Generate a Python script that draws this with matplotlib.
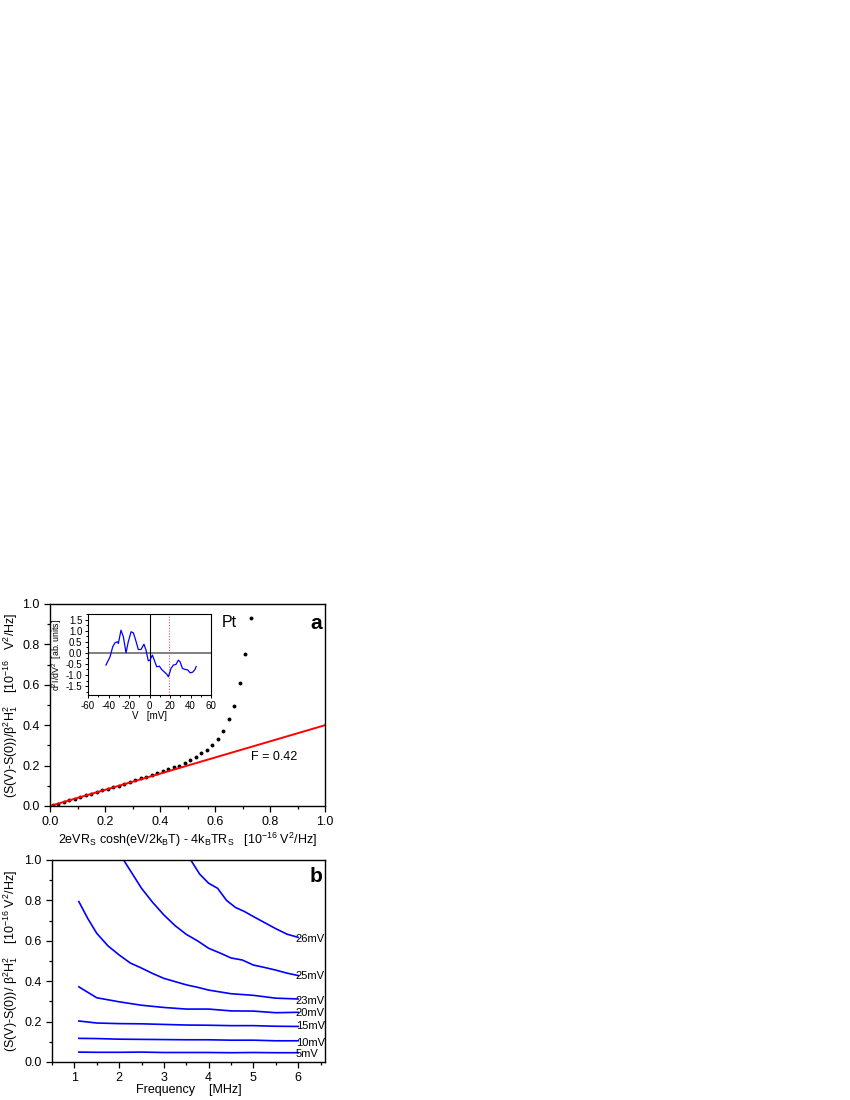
import numpy as np
import matplotlib
matplotlib.use("Agg")
import matplotlib.pyplot as plt
from matplotlib.ticker import MultipleLocator

plt.rcParams['font.family'] = ['Liberation Sans', 'DejaVu Sans']
plt.rcParams['mathtext.fontset'] = 'custom'
plt.rcParams['mathtext.rm'] = 'Liberation Sans'
plt.rcParams['mathtext.it'] = 'Liberation Sans:italic'
plt.rcParams['mathtext.bf'] = 'Liberation Sans:bold'
plt.rcParams['axes.unicode_minus'] = False

# panel a: measured points
a_x = [0.01, 0.03, 0.05, 0.07, 0.09, 0.11, 0.13, 0.15, 0.17, 0.19, 0.21, 0.23,
       0.25, 0.27, 0.29, 0.31, 0.33, 0.35, 0.37, 0.39, 0.41, 0.43, 0.45, 0.47,
       0.49, 0.51, 0.53, 0.55, 0.57, 0.59, 0.61, 0.63, 0.65, 0.67, 0.69, 0.71, 0.73]
a_y = [0.004, 0.012, 0.020, 0.028, 0.036, 0.044, 0.052, 0.060, 0.068, 0.077, 0.085, 0.093,
       0.101, 0.110, 0.119, 0.128, 0.137, 0.146, 0.155, 0.164, 0.175, 0.183, 0.191, 0.200,
       0.212, 0.226, 0.244, 0.261, 0.277, 0.302, 0.330, 0.371, 0.429, 0.495, 0.611, 0.751, 0.929]
fit_x = [0.0, 1.0]
fit_y = [0.0, 0.40]

# inset: d2I/dV2 vs V
ins_v = [-42.5, -38.5, -35.9, -33.7, -31.4, -30.4, -27.8, -25.5, -22.9, -20.7, -18.0, -15.7,
         -13.5, -10.9, -8.3, -5.4, -3.4, -1.2, 0.4, 2.8, 4.7, 7.0, 9.6, 11.9, 14.2, 16.8,
         18.4, 21.0, 23.3, 25.9, 28.1, 29.8, 32.1, 34.7, 37.3, 39.6, 42.2, 44.4, 45.5]
ins_d = [-0.55, -0.18, 0.27, 0.45, 0.50, 0.42, 1.02, 0.72, 0.0, 0.50, 0.95, 0.90,
         0.57, 0.15, 0.15, 0.39, 0.12, -0.36, -0.33, -0.10, -0.33, -0.63, -0.60, -0.75, -0.85, -0.96,
         -1.08, -0.70, -0.55, -0.52, -0.33, -0.40, -0.70, -0.75, -0.77, -0.90, -0.87, -0.75, -0.62]
phonon_v = 19.0

# panel b: noise vs frequency for several bias voltages
freq = [1.1, 1.5, 2.0, 2.5, 3.0, 3.5, 4.0, 4.5, 5.0, 5.5, 6.0]
s_5 = [0.049, 0.048, 0.048, 0.049, 0.047, 0.047, 0.047, 0.046, 0.047, 0.046, 0.046]
s_10 = [0.117, 0.116, 0.113, 0.112, 0.111, 0.110, 0.110, 0.108, 0.108, 0.105, 0.105]
s_15 = [0.203, 0.193, 0.190, 0.189, 0.186, 0.183, 0.182, 0.180, 0.180, 0.177, 0.176]
s_20 = [0.372, 0.318, 0.298, 0.281, 0.270, 0.262, 0.262, 0.253, 0.252, 0.244, 0.246]
freq_23 = [1.1, 1.3, 1.5, 1.75, 2.0, 2.25, 2.5, 2.75, 3.0, 3.25, 3.5, 3.75, 4.0, 4.5, 5.0, 5.5, 6.0]
s_23 = [0.794, 0.71, 0.637, 0.575, 0.530, 0.490, 0.465, 0.438, 0.414, 0.398, 0.382, 0.370,
        0.356, 0.338, 0.330, 0.316, 0.312]
freq_25 = [2.1, 2.3, 2.5, 2.75, 3.0, 3.25, 3.5, 3.75, 4.0, 4.25, 4.5, 4.75, 5.0, 5.25, 5.5, 5.75, 6.0]
s_25 = [1.0, 0.93, 0.86, 0.79, 0.728, 0.675, 0.632, 0.60, 0.563, 0.54, 0.515, 0.505,
        0.48, 0.468, 0.455, 0.44, 0.428]
freq_26 = [3.6, 3.8, 4.0, 4.2, 4.4, 4.6, 4.8, 5.0, 5.25, 5.5, 5.75, 6.0]
s_26 = [1.0, 0.93, 0.885, 0.86, 0.80, 0.765, 0.745, 0.72, 0.69, 0.66, 0.633, 0.617]

curves = [(freq, s_5, '5mV'), (freq, s_10, '10mV'), (freq, s_15, '15mV'),
          (freq, s_20, '20mV'), (freq_23, s_23, '23mV'), (freq_25, s_25, '25mV'),
          (freq_26, s_26, '26mV')]
label_y = {'5mV': 0.040, '10mV': 0.096, '15mV': 0.180, '20mV': 0.241,
           '23mV': 0.304, '25mV': 0.426, '26mV': 0.607}

fig = plt.figure(figsize=(8.5, 11), dpi=100)
fs = 9


def style_axes(ax, size=fs):
    for s in ax.spines.values():
        s.set_linewidth(1.0)
    ax.tick_params(which='both', direction='out', top=False, right=False, labelsize=size, width=0.9)
    ax.tick_params(which='major', length=4)
    ax.tick_params(which='minor', length=2.5)


# ---- panel a ----
ax1 = fig.add_axes([50 / 850, 1 - 806 / 1100, 275 / 850, 202 / 1100])
ax1.plot(a_x, a_y, 'o', color='black', markersize=2.8, markeredgewidth=0)
ax1.plot(fit_x, fit_y, color='red', lw=1.4)
ax1.set_xlim(0, 1.0)
ax1.set_ylim(0, 1.0)
ax1.xaxis.set_major_locator(MultipleLocator(0.2))
ax1.xaxis.set_minor_locator(MultipleLocator(0.1))
ax1.yaxis.set_major_locator(MultipleLocator(0.2))
ax1.yaxis.set_minor_locator(MultipleLocator(0.1))
ax1.xaxis.set_major_formatter(plt.FormatStrFormatter('%.1f'))
ax1.yaxis.set_major_formatter(plt.FormatStrFormatter('%.1f'))
style_axes(ax1)
ax1.set_xlabel(r'2eVR$_\mathregular{S}$ cosh(eV/2k$_\mathregular{B}$T) - 4k$_\mathregular{B}$TR$_\mathregular{S}$'
               r'   [10$^{\mathregular{-16}}$ V$^\mathregular{2}$/Hz]', fontsize=fs)
ax1.xaxis.set_label_coords(0.5, -0.125)
ax1.set_ylabel(r'(S(V)-S(0))/$\mathregular{\beta^2}$H$_\mathregular{1}^\mathregular{2}$'
               r'    [10$^{\mathregular{-16}}$   V$^\mathregular{2}$/Hz]', fontsize=fs)
ax1.yaxis.set_label_coords(-0.109, 0.5)
ax1.text(0.625, 0.91, 'Pt', fontsize=11.5, va='center', ha='left')
ax1.text(0.99, 0.905, 'a', fontsize=15, fontweight='bold', va='center', ha='right')
ax1.text(0.73, 0.244, 'F = 0.42', fontsize=fs, va='center', ha='left')

# inset
axi = fig.add_axes([88 / 850, 1 - 695 / 1100, 123 / 850, 81 / 1100])
axi.axhline(0, color='gray', lw=1.4)
axi.axvline(0, color='black', lw=0.8)
axi.axvline(phonon_v, color='#ff5050', lw=0.8, ls=(0, (1, 1.5)))
axi.plot(ins_v, ins_d, color='blue', lw=0.9)
axi.set_xlim(-60, 60)
axi.set_ylim(-1.9, 1.75)
axi.xaxis.set_major_locator(MultipleLocator(20))
axi.xaxis.set_minor_locator(MultipleLocator(10))
axi.yaxis.set_major_locator(MultipleLocator(0.5))
axi.yaxis.set_minor_locator(MultipleLocator(0.25))
axi.yaxis.set_major_formatter(plt.FormatStrFormatter('%.1f'))
for s in axi.spines.values():
    s.set_linewidth(0.8)
axi.tick_params(which='both', direction='out', top=False, right=False, labelsize=7, width=0.7, pad=1.5)
axi.tick_params(which='major', length=2.5)
axi.tick_params(which='minor', length=1.5)
axi.set_xlabel('V   [mV]', fontsize=7, labelpad=0)
axi.set_ylabel(r'd$^\mathregular{2}$I/dV$^\mathregular{2}$  [ab. units]', fontsize=6.3, labelpad=1)

# ---- panel b ----
ax2 = fig.add_axes([52 / 850, 1 - 1062 / 1100, 273 / 850, 202 / 1100])
for fx, sy, lab in curves:
    ax2.plot(fx, sy, color='blue', lw=1.2)
    ax2.text(5.95, label_y[lab], lab, fontsize=8, va='center', ha='left')
ax2.set_xlim(0.5, 6.6)
ax2.set_ylim(0, 1.0)
ax2.xaxis.set_major_locator(MultipleLocator(1))
ax2.xaxis.set_minor_locator(MultipleLocator(0.5))
ax2.yaxis.set_major_locator(MultipleLocator(0.2))
ax2.yaxis.set_minor_locator(MultipleLocator(0.1))
ax2.yaxis.set_major_formatter(plt.FormatStrFormatter('%.1f'))
style_axes(ax2)
ax2.set_xlabel('Frequency    [MHz]', fontsize=fs)
ax2.xaxis.set_label_coords(0.5, -0.11)
ax2.set_ylabel(r'(S(V)-S(0))/ $\mathregular{\beta^2}$H$_\mathregular{1}^\mathregular{2}$'
               r'    [10$^{\mathregular{-16}}$ V$^\mathregular{2}$/Hz]', fontsize=fs)
ax2.yaxis.set_label_coords(-0.117, 0.5)
ax2.text(6.55, 0.917, 'b', fontsize=15, fontweight='bold', va='center', ha='right')

fig.savefig('out.png', dpi=100)
